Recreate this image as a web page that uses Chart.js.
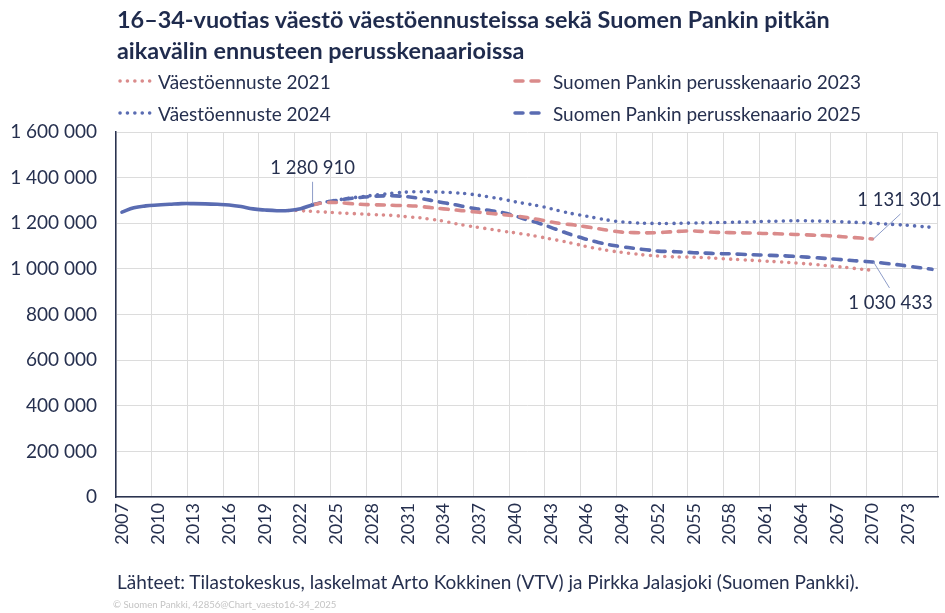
<!DOCTYPE html>
<html>
<head>
<meta charset="utf-8">
<script src="https://cdn.jsdelivr.net/npm/chart.js@4.4.1/dist/chart.umd.min.js"></script>
<style>
  html, body { margin: 0; padding: 0; background: #ffffff; }
  #wrap { position: relative; width: 945px; height: 613px; overflow: hidden; font-family: Lato, "Open Sans", sans-serif; color: #26304f; }
  #c { position: absolute; left: 0; top: 0; }
  .title { position: absolute; left: 117px; top: 4px; font-weight: bold; font-size: 23.4px; line-height: 31px; color: #1f2b4d; white-space: nowrap; }
  .leg { position: absolute; display: flex; align-items: center; font-size: 19px; white-space: nowrap; color: #26304f; }
  .leg svg { margin-right: 4px; }
  .src { position: absolute; left: 117px; top: 570px; font-size: 19px; white-space: nowrap; color: #26304f; }
  .copy { position: absolute; left: 113px; top: 599px; font-size: 9.6px; white-space: nowrap; color: #c4c4c4; }
</style>
</head>
<body>
<div id="wrap">
  <canvas id="c" width="945" height="613"></canvas>
  <div class="title">16–34-vuotias väestö väestöennusteissa sekä Suomen Pankin pitkän<br>aikavälin ennusteen perusskenaarioissa</div>
  <div id="legend"></div>
  <div class="src">Lähteet: Tilastokeskus, laskelmat Arto Kokkinen (VTV) ja Pirkka Jalasjoki (Suomen Pankki).</div>
  <div class="copy">© Suomen Pankki, 42856@Chart_vaesto16-34_2025</div>
</div>
<script>
// ---------- DATA ----------
const years = ['2007','2008','2009','2010','2011','2012','2013','2014','2015','2016','2017','2018','2019','2020',
  '2021','2022','2023','2024','2025','2026','2027','2028','2029','2030','2031','2032','2033','2034','2035',
  '2036','2037','2038','2039','2040','2041','2042','2043','2044','2045','2046','2047','2048','2049','2050',
  '2051','2052','2053','2054','2055','2056','2057','2058','2059','2060','2061','2062','2063','2064','2065',
  '2066','2067','2068','2069','2070','2071','2072','2073','2074','2075'];

const yTicks = [0, 200000, 400000, 600000, 800000, 1000000, 1200000, 1400000, 1600000];

// Toteutunut (2007–2023)
const historyStart = '2007';
const history = [1249000,1268000,1276000,1280000,1283000,1286000,1286000,1285000,1283000,1280000,
  1273000,1263000,1258000,1255000,1256000,1264000,1280910];

// Väestöennuste 2021 (2021–2070)
const ve2021Start = '2021';
const ve2021 = [1256000,1255000,1252000,1249000,1246000,1243000,1241000,1238000,1236000,1233000,
  1228000,1224000,1217000,1209000,1198000,1189000,1181000,1173000,1165000,1158000,
  1150000,1141000,1131000,1121000,1110000,1098000,1088000,1079000,1072000,1066000,
  1060000,1056000,1053000,1052000,1051000,1049000,1046000,1043000,1040000,1037000,
  1034000,1031000,1028000,1024000,1020000,1015000,1010000,1005000,999000,994000];

// Väestöennuste 2024 (2023–2075)
const ve2024Start = '2023';
const ve2024 = [1280910,1292000,1301000,1309000,1316000,1322000,1328000,1333000,1337000,1338000,
  1338000,1336000,1333000,1329000,1322000,1314000,1305000,1294000,1285000,1276000,
  1264000,1251000,1240000,1231000,1221000,1212000,1206000,1202000,1200000,1199000,
  1199000,1200000,1201000,1202000,1203000,1204000,1205000,1206000,1208000,1209000,
  1211000,1211000,1210000,1209000,1207000,1205000,1203000,1200000,1197000,1194000,
  1191000,1186000,1182000];

// Suomen Pankin perusskenaario 2023 (2023–2070)
const sp2023Start = '2023';
const sp2023 = [1280910,1290000,1291000,1287000,1283000,1281000,1280000,1278000,1277000,1274000,
  1268000,1263000,1258000,1253000,1248000,1243000,1238000,1232000,1225000,1216000,
  1206000,1198000,1192000,1184000,1176000,1168000,1161000,1159000,1158000,1159000,
  1162000,1165000,1166000,1163000,1160000,1159000,1158000,1157000,1155000,1154000,
  1152000,1150000,1148000,1146000,1143000,1139000,1135000,1131301];

// Suomen Pankin perusskenaario 2025 (2023–2075)
const sp2025Start = '2023';
const sp2025 = [1280910,1292000,1300000,1308000,1313000,1318000,1320000,1320000,1316000,1309000,
  1300000,1290000,1281000,1270000,1262000,1255000,1246000,1232000,1215000,1200000,
  1182000,1163000,1145000,1130000,1116000,1105000,1097000,1090000,1084000,1078000,
  1076000,1074000,1071000,1069000,1067000,1066000,1064000,1062000,1060000,1058000,
  1056000,1053000,1050000,1046000,1042000,1038000,1034000,1030433,1025000,1019000,
  1012000,1005000,998000];

const seriesNames = ['Väestöennuste 2021', 'Suomen Pankin perusskenaario 2023', 'Väestöennuste 2024', 'Suomen Pankin perusskenaario 2025'];

// ---------- STYLE ----------
const BLUE = '#5a6cb2';
const RED = '#da8b8b';
const TEXT = '#26304f';
const GRID = '#dcdcdc';
const DOT = [0, 7.3];
const DASH = [8, 8];

function pad(start, values) {
  const out = years.map(() => null);
  const s = years.indexOf(start);
  values.forEach((v, i) => { out[s + i] = v; });
  return out;
}
function fmt(v) {
  return String(Math.round(v)).replace(/\B(?=(\d{3})+(?!\d))/g, ' ');
}

// ---------- LEGEND (HTML) ----------
const legendItems = [
  { name: seriesNames[0], color: RED, dash: '0.1 7.3', left: 116, top: 81 },
  { name: seriesNames[1], color: RED, dash: '8 8', left: 511, top: 81 },
  { name: seriesNames[2], color: BLUE, dash: '0.1 7.3', left: 116, top: 113 },
  { name: seriesNames[3], color: BLUE, dash: '8 8', left: 511, top: 113 }
];
const legEl = document.getElementById('legend');
legendItems.forEach(it => {
  const d = document.createElement('div');
  d.className = 'leg';
  d.style.left = it.left + 'px';
  d.style.top = (it.top - 12) + 'px';
  d.style.height = '24px';
  d.innerHTML = '<svg width="38" height="8"><line x1="4" y1="4" x2="36" y2="4" stroke="' + it.color +
    '" stroke-width="3.5" stroke-linecap="round" stroke-dasharray="' + it.dash + '"/></svg><span>' + it.name + '</span>';
  legEl.appendChild(d);
});

// ---------- ANNOTATIONS ----------
const annotations = [
  { ds: 0, year: '2023', dx1: 0, dy1: -1, dx2: 0, dy2: -23, tx: 0, ty: -37 },
  { ds: 2, year: '2070', dx1: 1, dy1: 0, dx2: 28, dy2: -25, tx: 27, ty: -39 },
  { ds: 4, year: '2070', dx1: 1, dy1: 0, dx2: 17, dy2: 26, tx: 18, ty: 41 }
];
const annotationPlugin = {
  id: 'annot',
  afterDatasetsDraw(chart) {
    const ctx = chart.ctx;
    const xs = chart.scales.x, ys = chart.scales.y;
    ctx.save();
    annotations.forEach(a => {
      const idx = years.indexOf(a.year);
      const v = chart.data.datasets[a.ds].data[idx];
      const px = xs.getPixelForValue(idx);
      const py = ys.getPixelForValue(v);
      ctx.strokeStyle = '#8d9cc8';
      ctx.lineWidth = 1;
      ctx.beginPath();
      ctx.moveTo(px + a.dx1, py + a.dy1);
      ctx.lineTo(px + a.dx2, py + a.dy2);
      ctx.stroke();
      ctx.fillStyle = TEXT;
      ctx.font = '18.5px Lato, "Open Sans", sans-serif';
      ctx.textAlign = 'center';
      ctx.textBaseline = 'middle';
      ctx.fillText(fmt(v), px + a.tx, py + a.ty);
    });
    ctx.restore();
  }
};

// ---------- CHART ----------
const common = { pointRadius: 0, pointHoverRadius: 0, tension: 0.4, fill: false, borderWidth: 3.6, spanGaps: false };
new Chart(document.getElementById('c'), {
  type: 'line',
  data: {
    labels: years,
    datasets: [
      Object.assign({ label: 'Toteutunut', data: pad(historyStart, history), borderColor: BLUE, borderCapStyle: 'round' }, common),
      Object.assign({ label: seriesNames[0], data: pad(ve2021Start, ve2021), borderColor: RED, borderDash: DOT, borderCapStyle: 'round' }, common),
      Object.assign({ label: seriesNames[1], data: pad(sp2023Start, sp2023), borderColor: RED, borderDash: DASH, borderCapStyle: 'round' }, common),
      Object.assign({ label: seriesNames[2], data: pad(ve2024Start, ve2024), borderColor: BLUE, borderDash: DOT, borderCapStyle: 'round' }, common),
      Object.assign({ label: seriesNames[3], data: pad(sp2025Start, sp2025), borderColor: BLUE, borderDash: DASH, borderCapStyle: 'round' }, common)
    ]
  },
  options: {
    responsive: false,
    animation: false,
    events: [],
    layout: { padding: { top: 132, left: 0, right: 7, bottom: 0 } },
    plugins: { legend: { display: false }, title: { display: false }, tooltip: { enabled: false } },
    scales: {
      x: {
        type: 'category',
        offset: true,
        grid: {
          offset: true,
          drawTicks: false,
          color: c => ((c.index === undefined || c.index % 3 === 0) ? GRID : 'rgba(0,0,0,0)'),
          lineWidth: 1
        },
        border: { display: true, color: '#2a3350', width: 1.5 },
        ticks: {
          autoSkip: false,
          minRotation: 90,
          maxRotation: 90,
          padding: 6,
          color: TEXT,
          font: { family: 'Lato, "Open Sans", sans-serif', size: 18 },
          callback: (val, i) => (i % 3 === 0 ? years[i] : '')
        },
        afterFit: s => { s.height = 116; s.paddingLeft = 0; s.paddingRight = 0; }
      },
      y: {
        min: 0,
        max: 1600000,
        afterBuildTicks: s => { s.ticks = yTicks.map(v => ({ value: v })); },
        grid: { color: GRID, lineWidth: 1, drawTicks: false },
        border: { display: true, color: '#2a3350', width: 1.5 },
        ticks: {
          padding: 19,
          color: TEXT,
          font: { family: 'Lato, "Open Sans", sans-serif', size: 19 },
          callback: v => fmt(v)
        },
        afterFit: s => { s.width = 116; }
      }
    }
  },
  plugins: [annotationPlugin]
});
</script>
</body>
</html>
